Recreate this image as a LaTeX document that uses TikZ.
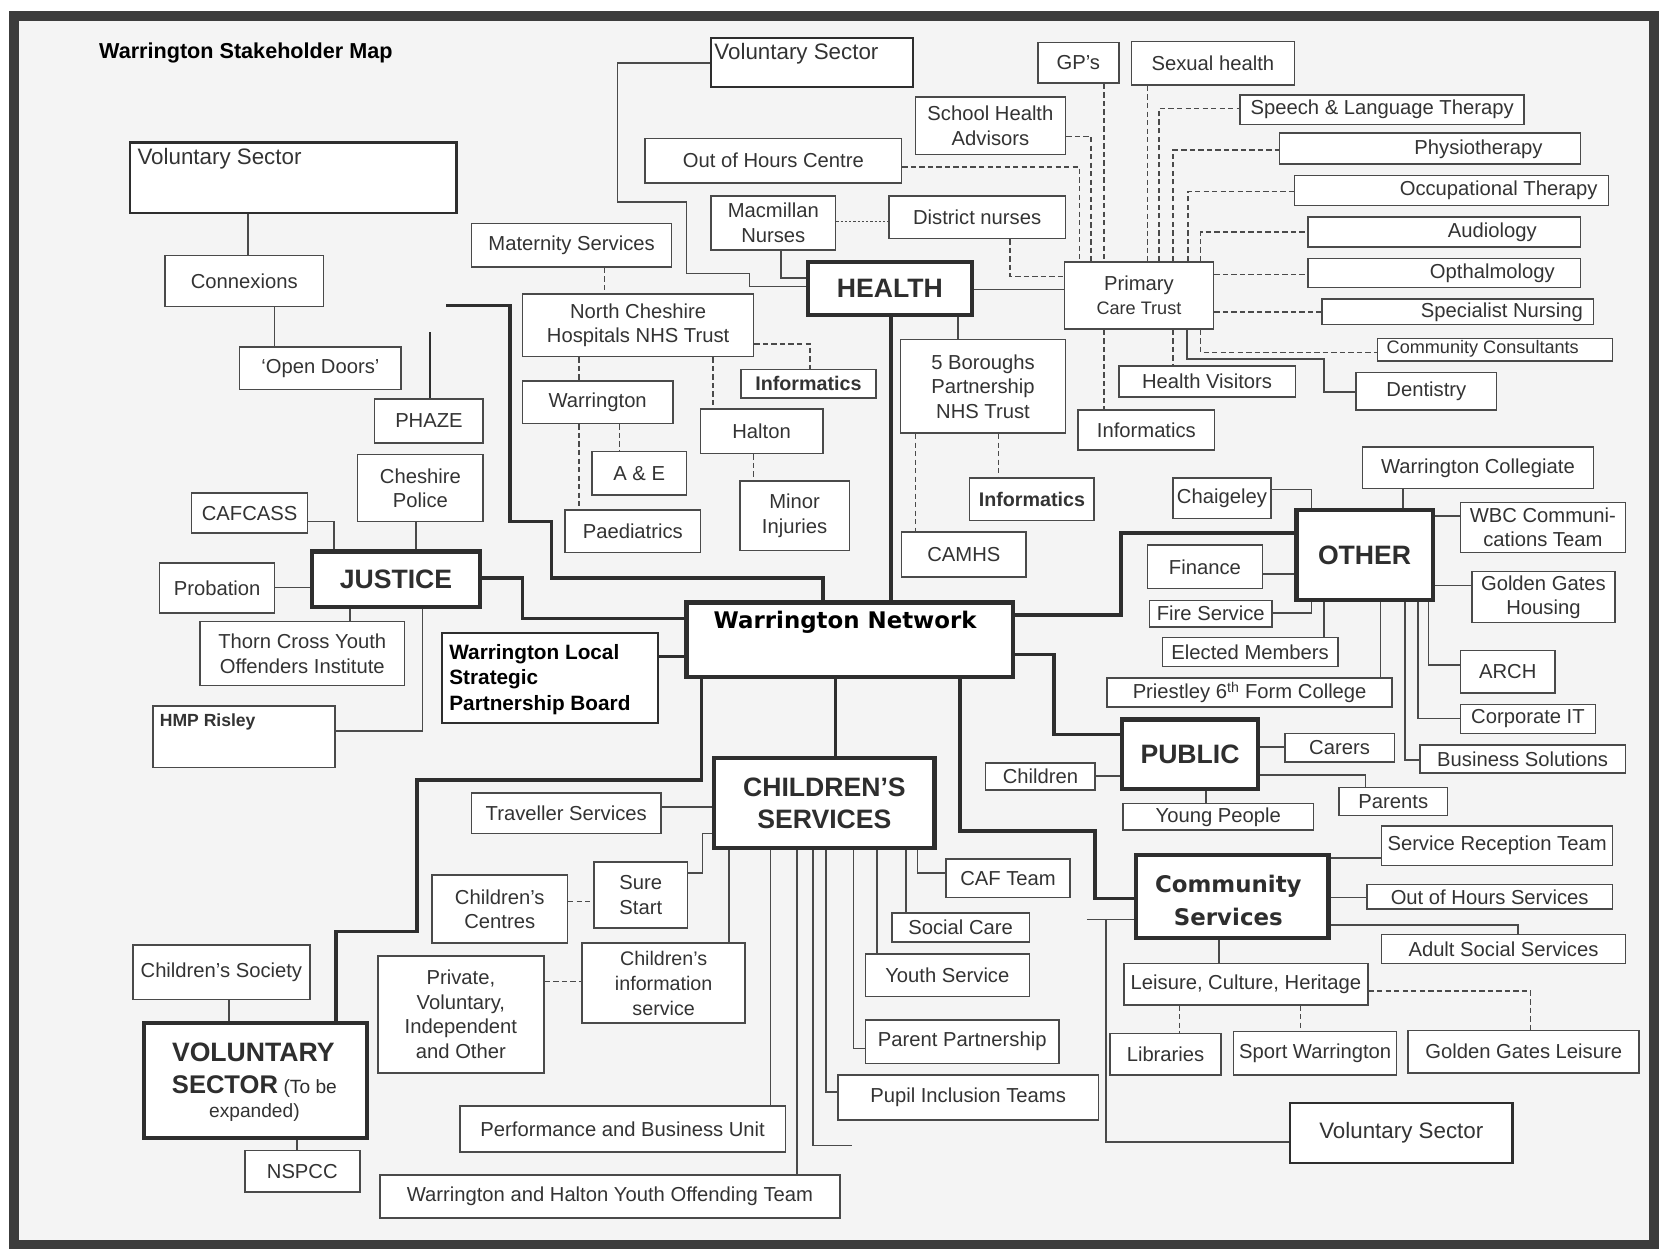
\documentclass[tikz,border=0pt]{standalone}
\usepackage{fontspec}
\setmainfont{Liberation Sans}
\newfontfamily\verd{DejaVu Sans}
\definecolor{txtc}{HTML}{333333}
\definecolor{lnc}{HTML}{4A4A4A}
\definecolor{thk}{HTML}{2E2E2E}
\definecolor{bgc}{HTML}{F4F4F4}
\definecolor{frm}{HTML}{3C3C3C}
\tikzset{
 box/.style={draw=lnc, line width=1.5pt, fill=white, inner sep=0pt, text=txtc, font=\fontsize{19}{23}\selectfont, align=center},
 hdr/.style={draw=thk, line width=4pt, text=thk, font=\fontsize{25}{30}\selectfont\bfseries},
 txt/.style={inner sep=0pt, text=txtc, font=\fontsize{19}{23}\selectfont},
 ln/.style={draw=lnc, line width=1.5pt},
 tk/.style={draw=thk, line width=3.5pt},
 dl/.style={draw=lnc, line width=1.4pt, dash pattern=on 5pt off 3pt},
 dt/.style={draw=lnc, line width=1.4pt, dash pattern=on 2pt off 2pt},
 bfi/.style={font=\fontsize{18.5}{22}\selectfont\bfseries},
}
\newcommand{\bx}[7][]{%
  \pgfmathsetmacro{\bxcx}{(#3+#5)/2}%
  \pgfmathsetmacro{\bxcy}{(#4+#6)/2}%
  \pgfmathsetmacro{\bxw}{#5-#3}%
  \pgfmathsetmacro{\bxh}{#6-#4}%
  \node[box,minimum width=\bxw pt,minimum height=\bxh pt,#1] (#2) at (\bxcx,\bxcy) {#7};%
}
\begin{document}
\begin{tikzpicture}[x=1pt,y=-1pt]
\useasboundingbox (0,0) rectangle (1568,1181);
\fill[white] (0,0) rectangle (1568,1181);
\fill[bgc] (13,15) rectangle (1554,1169);
\draw[frm, line width=9pt] (13,15) rectangle (1554,1169);

\node[anchor=west, inner sep=0pt, font=\fontsize{20.3}{24}\selectfont\bfseries, text=black] (title) at (93,50) {Warrington Stakeholder Map};

% ---------- left voluntary sector ----------
\bx[draw=thk,line width=2.2pt]{vsl}{122}{134}{429}{200}{}
\node[txt, anchor=west, font=\fontsize{21}{25}\selectfont] (vsltx) at (129,149) {Voluntary Sector};
\bx{connex}{155}{240}{304}{288}{Connexions}
\bx{opendoors}{225}{326}{377}{366}{`Open Doors'}

% ---------- justice ----------
\bx{phaze}{352}{375}{454}{416}{PHAZE}
\bx{cheshire}{336}{427}{454}{490}{Cheshire\\Police}
\bx{cafcass}{180}{463}{289}{501}{CAFCASS}
\bx[hdr]{justice}{293}{518}{451}{570}{JUSTICE}
\bx{probation}{150}{529}{258}{576}{Probation}
\bx{thorn}{188}{584}{380}{644}{Thorn Cross Youth\\Offenders Institute}
\bx{hmp}{144}{663}{315}{721}{}
\node[txt, anchor=west, font=\fontsize{16.5}{19}\selectfont\bfseries] (hmptx) at (150,678) {HMP Risley};
\bx[draw=thk,line width=2pt]{lsp}{415}{595}{618}{679}{}
\node[txt, anchor=north west, align=left, text=black, font=\fontsize{19.5}{24}\selectfont\bfseries] (lsptx) at (422,605) {Warrington Local\\Strategic\\Partnership Board};

% ---------- network ----------
\bx[draw=thk,line width=4pt]{network}{645}{566}{952}{636}{}
\node[inner sep=0pt, text=black, font={\verd\bfseries\fontsize{21.5}{26}\selectfont}] (nettx) at (794,585) {Warrington Network};

% ---------- health ----------
\bx[draw=thk,line width=2pt]{vst}{668}{36}{858}{82}{}
\node[txt, anchor=west, font=\fontsize{21}{25}\selectfont] (vsttx) at (671,50) {Voluntary Sector};
\bx{gps}{975}{40}{1051}{78}{GP's}
\bx{sexh}{1063}{39}{1216}{80}{Sexual health}
\bx{sha}{860}{91}{1001}{145}{School Health\\Advisors}
\bx{ooh}{606}{130}{847}{172}{Out of Hours Centre}
\bx{slt}{1165}{89}{1432}{117}{Speech \& Language Therapy}
\bx{physio}{1202}{125}{1485}{154}{}
\node[txt] (physiotx) at (1389,140) {Physiotherapy};
\bx{ot}{1216}{165}{1511}{193}{}
\node[txt] (ottx) at (1408,179) {Occupational Therapy};
\bx{aud}{1229}{204}{1485}{232}{}
\node[txt] (audtx) at (1402,218) {Audiology};
\bx{opth}{1229}{243}{1485}{270}{}
\node[txt] (opthtx) at (1402,257) {Opthalmology};
\bx{spn}{1242}{281}{1497}{305}{}
\node[txt] (spntx) at (1411,293) {Specialist Nursing};
\bx{cc}{1294}{318}{1515}{339}{}
\node[txt, font=\fontsize{17}{20}\selectfont] (cctx) at (1393,328) {Community Consultants};
\bx{dent}{1274}{350}{1406}{385}{Dentistry}
\bx{hv}{1051}{344}{1217}{373}{Health Visitors}
\bx{infr}{1013}{385}{1141}{423}{Informatics}
\bx{pct}{1000}{246}{1140}{309}{Primary\\{\fontsize{17}{20}\selectfont Care Trust}}
\bx{dn}{835}{184}{1001}{224}{District nurses}
\bx{mac}{668}{184}{785}{235}{Macmillan\\Nurses}
\bx{mat}{443}{210}{631}{251}{Maternity Services}
\bx[hdr]{health}{759}{246}{913}{296}{HEALTH}
\bx{nch}{491}{276}{708}{335}{North Cheshire\\Hospitals NHS Trust}
\bx[bfi]{infm}{696}{347}{823}{374}{Informatics}
\bx{warr}{491}{358}{632}{398}{Warrington}
\bx{halton}{658}{384}{773}{426}{Halton}
\bx{ae}{556}{424}{645}{465}{A \& E}
\bx{paed}{531}{479}{658}{519}{Paediatrics}
\bx{mi}{695}{452}{798}{517}{Minor\\Injuries}
\bx{fiveb}{846}{319}{1001}{407}{5 Boroughs\\Partnership\\NHS Trust}
\bx[bfi]{infl}{911}{449}{1028}{489}{Informatics}
\bx{camhs}{847}{500}{964}{542}{CAMHS}

% ---------- other ----------
\bx[hdr]{other}{1218}{479}{1346}{564}{OTHER}
\bx{wcol}{1280}{420}{1497}{459}{Warrington Collegiate}
\bx{chaig}{1102}{449}{1194}{487}{Chaigeley}
\bx{wbc}{1372}{472}{1527}{519}{WBC Communi-\\cations Team}
\bx{ggh}{1383}{537}{1517}{585}{Golden Gates\\Housing}
\bx{fin}{1078}{512}{1186}{553}{Finance}
\bx{fire}{1080}{564}{1195}{589}{Fire Service}
\bx{em}{1092}{599}{1257}{626}{Elected Members}
\bx{pri}{1040}{637}{1308}{664}{Priestley 6\textsuperscript{th} Form College}
\bx{arch}{1372}{611}{1461}{651}{ARCH}
\bx{cit}{1372}{662}{1499}{689}{Corporate IT}
\bx{bs}{1334}{700}{1527}{726}{Business Solutions}

% ---------- public ----------
\bx[hdr]{public}{1054}{676}{1182}{741}{PUBLIC}
\bx{carers}{1207}{689}{1310}{716}{Carers}
\bx{parents}{1258}{740}{1360}{766}{Parents}
\bx{yp}{1055}{755}{1234}{780}{Young People}
\bx{children}{926}{717}{1029}{742}{Children}

% ---------- community services ----------
\bx[draw=thk,line width=4pt]{cs}{1067}{803}{1248}{881}{}
\node[inner sep=0pt, align=center, text=thk, font={\verd\bfseries\fontsize{21.5}{31}\selectfont}] (cstx) at (1154,846) {Community\\Services};
\bx{srt}{1298}{776}{1515}{813}{Service Reception Team}
\bx{ohs}{1284}{831}{1515}{854}{Out of Hours Services}
\bx{ass}{1298}{878}{1527}{905}{Adult Social Services}
\bx{lch}{1056}{905}{1285}{944}{Leisure, Culture, Heritage}
\bx{lib}{1043}{971}{1147}{1010}{Libraries}
\bx{sw}{1159}{969}{1312}{1010}{Sport Warrington}
\bx{ggl}{1323}{968}{1540}{1008}{Golden Gates Leisure}
\bx[draw=thk,line width=2pt,font=\fontsize{21}{25}\selectfont]{vsr}{1212}{1036}{1421}{1093}{Voluntary Sector}

% ---------- children's services ----------
\bx[hdr]{chs}{671}{712}{878}{797}{CHILDREN'S\\SERVICES}
\bx{trav}{443}{745}{621}{783}{Traveller Services}
\bx{sure}{558}{810}{646}{872}{Sure\\Start}
\bx{ccent}{406}{822}{533}{886}{Children's\\Centres}
\bx[font=\fontsize{18.5}{23.5}\selectfont]{cis}{547}{886}{700}{961}{Children's\\information\\service}
\bx{pvio}{355}{898}{511}{1008}{Private,\\Voluntary,\\Independent\\and Other}
\bx{pbu}{432}{1039}{738}{1082}{Performance and Business Unit}
\bx{yot}{357}{1104}{789}{1144}{Warrington and Halton Youth Offending Team}
\bx{pit}{787}{1010}{1032}{1052}{Pupil Inclusion Teams}
\bx{pp}{813}{958}{995}{999}{Parent Partnership}
\bx{ys}{813}{896}{967}{936}{Youth Service}
\bx{sc}{838}{858}{967}{885}{Social Care}
\bx{caf}{889}{807}{1005}{843}{CAF Team}

% ---------- voluntary sector (bottom left) ----------
\bx[draw=thk,line width=4pt]{vsb}{135}{961}{345}{1069}{}
\node[txt, text=thk, font=\fontsize{25}{30}\selectfont\bfseries] (vsb1) at (238,989) {VOLUNTARY};
\node[txt, text=thk] (vsb2) at (239,1021) {{\fontsize{24}{28}\selectfont\bfseries SECTOR} {\fontsize{18}{22}\selectfont(To be}};
\node[txt, font=\fontsize{18}{22}\selectfont] (vsb3) at (239,1045) {expanded)};
\bx{csoc}{125}{888}{291}{939}{Children's Society}
\bx{nspcc}{230}{1081}{338}{1120}{NSPCC}

% ================= connectors =================
\draw[ln] (vsl.south -| 233,0) -- (connex.north -| 233,0);
\draw[ln] (connex.south -| 258,0) -- (opendoors.north -| 258,0);
\coordinate (phzend) at (404,312);
\draw[draw=thk, line width=2.6pt] (phaze.north -| 404,0) -- (phzend);

\draw[ln] (cheshire.south -| 391,0) -- (justice.north -| 391,0);
\draw[ln] (cafcass.east |- 0,490) -- (314,490) -- (justice.north -| 314,0);
\draw[ln] (probation.east |- 0,552) -- (justice.west |- 0,552);
\draw[ln] (justice.south -| 329,0) -- (thorn.north -| 329,0);
\draw[ln] (justice.south -| 397,0) -- (397,687) -- (hmp.east |- 0,687);
\draw[tk] (justice.east |- 0,543) -- (491,543) -- (491,581) -- (network.west |- 0,581);
\draw[tk, line width=3pt] (lsp.east |- 0,617) -- (network.west |- 0,617);
\coordinate (loopend) at (419,287);
\draw[tk] (network.north -| 773,0) -- (773,543) -- (518,543) -- (518,490) -- (479,490) -- (479,287) -- (loopend);

\draw[tk] (health.south -| 837,0) -- (network.north -| 837,0);
\draw[ln] (health.east |- 0,272) -- (pct.west |- 0,272);
\draw[ln] (health.south -| 900,0) -- (fiveb.north -| 900,0);
\draw[ln] (vst.west |- 0,59) -- (580,59) -- (580,190) -- (645,190) -- (645,257) -- (704,257) -- (704,269) -- (health.west |- 0,269);
\draw[ln] (mac.south -| 734,0) -- (734,261) -- (health.west |- 0,261);
\draw[dt] (mac.east |- 0,208) -- (dn.west |- 0,208);
\draw[dl] (dn.south -| 949,0) -- (949,260) -- (pct.west |- 0,260);
\draw[dl] (ooh.east |- 0,157) -- (1014,157) -- (pct.north -| 1014,0);
\draw[dl] (sha.east |- 0,128) -- (1025,128) -- (pct.north -| 1025,0);
\draw[dl] (gps.south -| 1037,0) -- (pct.north -| 1037,0);
\draw[dl] (sexh.south -| 1078,0) -- (pct.north -| 1078,0);
\draw[dl] (pct.north -| 1089,0) -- (1089,102) -- (slt.west |- 0,102);
\draw[dl] (pct.north -| 1102,0) -- (1102,141) -- (physio.west |- 0,141);
\draw[dl] (pct.north -| 1116,0) -- (1116,180) -- (ot.west |- 0,180);
\draw[dl] (pct.north -| 1128,0) -- (1128,218) -- (aud.west |- 0,218);
\draw[dl] (pct.east |- 0,258) -- (opth.west |- 0,258);
\draw[dl] (pct.east |- 0,293) -- (spn.west |- 0,293);
\draw[dl] (pct.south -| 1128,0) -- (1128,331) -- (cc.west |- 0,331);
\draw[ln] (pct.south -| 1115,0) -- (1115,337) -- (1244,337) -- (1244,368) -- (dent.west |- 0,368);
\draw[dl] (pct.south -| 1102,0) -- (hv.north -| 1102,0);
\draw[dl] (pct.south -| 1037,0) -- (infr.north -| 1037,0);
\draw[dl] (mat.south -| 568,0) -- (nch.north -| 568,0);
\draw[dl] (nch.east |- 0,323) -- (761,323) -- (infm.north -| 761,0);
\draw[dl] (nch.south -| 544,0) -- (warr.north -| 544,0);
\draw[dl] (warr.south -| 544,0) -- (paed.north -| 544,0);
\draw[dl] (warr.south -| 582,0) -- (ae.north -| 582,0);
\draw[dl] (nch.south -| 670,0) -- (halton.north -| 670,0);
\draw[dl] (halton.south -| 708,0) -- (mi.north -| 708,0);
\draw[dl] (fiveb.south -| 938,0) -- (infl.north -| 938,0);
\draw[dl] (fiveb.south -| 860,0) -- (camhs.north -| 860,0);

\draw[tk] (network.east |- 0,578) -- (1053,578) -- (1053,501) -- (other.west |- 0,501);
\draw[tk] (network.east |- 0,615) -- (990,615) -- (990,690) -- (public.west |- 0,690);
\draw[tk] (network.south -| 902,0) -- (902,781) -- (1029,781) -- (1029,844) -- (cs.west |- 0,844);
\draw[tk] (network.south -| 785,0) -- (chs.north -| 785,0);
\draw[tk] (network.south -| 659,0) -- (659,733) -- (392,733) -- (392,875) -- (316,875) -- (vsb.north -| 316,0);

\draw[ln] (wcol.south -| 1318,0) -- (other.north -| 1318,0);
\draw[ln] (chaig.east |- 0,460) -- (1232,460) -- (other.north -| 1232,0);
\draw[ln] (other.east |- 0,485) -- (wbc.west |- 0,485);
\draw[ln] (other.east |- 0,550) -- (ggh.west |- 0,550);
\draw[ln] (fin.east |- 0,539) -- (other.west |- 0,539);
\draw[ln] (fire.east |- 0,576) -- (1232,576) -- (other.south -| 1232,0);
\draw[ln] (em.north -| 1244,0) -- (other.south -| 1244,0);
\draw[ln] (pri.north -| 1297,0) -- (other.south -| 1297,0);
\draw[ln] (other.south -| 1342,0) -- (1342,625) -- (arch.west |- 0,625);
\draw[ln] (other.south -| 1332,0) -- (1332,675) -- (cit.west |- 0,675);
\draw[ln] (other.south -| 1320,0) -- (1320,714) -- (bs.west |- 0,714);

\draw[ln] (public.east |- 0,702) -- (carers.west |- 0,702);
\draw[ln] (public.east |- 0,728) -- (1283,728) -- (parents.north -| 1283,0);
\draw[ln] (public.south -| 1133,0) -- (yp.north -| 1133,0);
\draw[ln] (children.east |- 0,729) -- (public.west |- 0,729);

\draw[ln] (trav.east |- 0,758) -- (chs.west |- 0,758);
\draw[ln] (sure.east |- 0,820) -- (660,820) -- (660,783) -- (chs.west |- 0,783);
\draw[dl] (ccent.east |- 0,847) -- (sure.west |- 0,847);
\draw[ln] (cis.north -| 685,0) -- (chs.south -| 685,0);
\draw[dl] (pvio.east |- 0,922) -- (cis.west |- 0,922);
\draw[ln] (pbu.north -| 724,0) -- (chs.south -| 724,0);
\draw[ln] (yot.north -| 749,0) -- (chs.south -| 749,0);
\coordinate (chsfree) at (800,1076);
\draw[ln] (chs.south -| 764,0) -- (764,1076) -- (chsfree);
\draw[ln] (chs.south -| 776,0) -- (776,1026) -- (pit.west |- 0,1026);
\draw[ln] (chs.south -| 802,0) -- (802,985) -- (pp.west |- 0,985);
\draw[ln] (chs.south -| 824,0) -- (ys.north -| 824,0);
\draw[ln] (chs.south -| 851,0) -- (sc.north -| 851,0);
\draw[ln] (chs.south -| 862,0) -- (862,820) -- (caf.west |- 0,820);

\draw[ln] (csoc.south -| 215,0) -- (vsb.north -| 215,0);
\draw[ln] (vsb.south -| 279,0) -- (nspcc.north -| 279,0);

\draw[ln] (cs.east |- 0,806) -- (srt.west |- 0,806);
\draw[ln] (cs.east |- 0,843) -- (ohs.west |- 0,843);
\draw[ln] (cs.east |- 0,869) -- (1426,869) -- (ass.north -| 1426,0);
\draw[ln] (cs.south -| 1145,0) -- (lch.north -| 1145,0);
\draw[dl] (lch.south -| 1108,0) -- (lib.north -| 1108,0);
\draw[dl] (lch.south -| 1222,0) -- (sw.north -| 1222,0);
\draw[dl] (lch.east |- 0,931) -- (1438,931) -- (ggl.north -| 1438,0);
\coordinate (csfree) at (1021,864);
\coordinate (csjoin) at (1039,864);
\draw[ln] (csfree) -- (cs.west |- 0,864);
\draw[ln] (csjoin) -- (1039,1073) -- (vsr.west |- 0,1073);
\end{tikzpicture}
\end{document}
